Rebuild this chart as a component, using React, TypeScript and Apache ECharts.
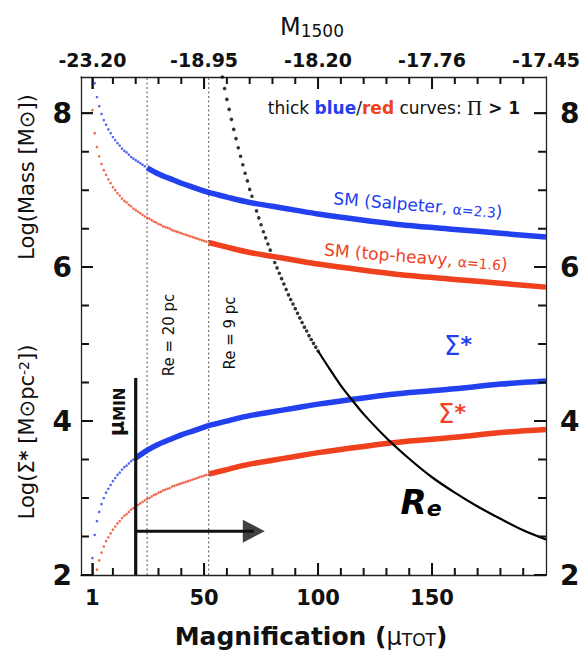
import React, { useEffect, useRef } from "react";
import * as echarts from "echarts";

// ---------- data ----------
const muFine = [1, 2, 3, 4, 5, 6, 7, 8, 9, 10, 11, 12, 13, 14, 15, 16, 17, 18, 19, 20, 21, 22, 23, 24, 25, 26, 27, 28, 29, 30, 31, 32, 33, 34, 35, 36, 37, 38, 39, 40, 41, 42, 43, 44, 45, 46, 47, 48, 49, 50, 51];

const blueMassThin = [null, 8.39, 8.21, 8.09, 7.99, 7.91, 7.85, 7.79, 7.74, 7.69, 7.65, 7.61, 7.58, 7.54, 7.51, 7.49, 7.46, 7.43, 7.41, 7.39, 7.37, 7.35, 7.33, 7.31];
const redMassThin = [8.04, 7.74, 7.56, 7.44, 7.34, 7.26, 7.2, 7.14, 7.09, 7.04, 7.0, 6.96, 6.93, 6.89, 6.86, 6.84, 6.81, 6.79, 6.76, 6.74, 6.72, 6.7, 6.68, 6.66, 6.64, 6.63, 6.61, 6.59, 6.58, 6.56, 6.55, 6.53, 6.52, 6.51, 6.5, 6.48, 6.47, 6.46, 6.45, 6.44, 6.43, 6.42, 6.41, 6.4, 6.39, 6.38, 6.37, 6.36, 6.35, 6.34, 6.33];
const blueSigmaThin = [2.22, 2.52, 2.7, 2.82, 2.92, 3.0, 3.07, 3.12, 3.17, 3.22, 3.26, 3.3, 3.33, 3.37, 3.4, 3.42, 3.45, 3.48, 3.5];
const redSigmaThin = [1.59, 1.89, 2.07, 2.19, 2.29, 2.37, 2.44, 2.49, 2.54, 2.59, 2.63, 2.67, 2.7, 2.74, 2.77, 2.79, 2.82, 2.85, 2.87, 2.89, 2.91, 2.93, 2.95, 2.97, 2.99, 3.0, 3.02, 3.04, 3.05, 3.07, 3.08, 3.1, 3.11, 3.12, 3.13, 3.15, 3.16, 3.17, 3.18, 3.19, 3.2, 3.21, 3.22, 3.23, 3.24, 3.25, 3.26, 3.27, 3.28, 3.29, 3.3];

const muThick = [20, 25, 30, 35, 40, 45, 52, 60, 70, 80, 90, 100, 120, 140, 160, 180, 200];
const blueMassThick = [null, 7.29, 7.21, 7.15, 7.09, 7.04, 6.97, 6.91, 6.84, 6.79, 6.74, 6.69, 6.61, 6.54, 6.49, 6.44, 6.39];
const redMassThick = [null, null, null, null, null, null, 6.32, 6.26, 6.19, 6.14, 6.09, 6.04, 5.96, 5.89, 5.84, 5.79, 5.74];
const blueSigmaThick = [3.52, 3.62, 3.7, 3.76, 3.82, 3.87, 3.94, 4.0, 4.07, 4.12, 4.17, 4.22, 4.3, 4.37, 4.42, 4.48, 4.52];
const redSigmaThick = [null, null, null, null, null, null, 3.31, 3.37, 3.44, 3.49, 3.54, 3.59, 3.67, 3.74, 3.79, 3.85, 3.89];

const reDotMu = [58, 59, 60, 61, 62, 63, 64, 65, 66, 67, 68, 69, 70, 71, 72, 73, 74, 75, 76, 77, 78, 79, 80, 81, 82, 83, 84, 85, 86, 87, 88, 89, 90, 91, 92, 93, 94, 95, 96, 97, 98, 99, 100];
const reDotVal = [8.47, 8.32, 8.18, 8.05, 7.92, 7.79, 7.67, 7.55, 7.44, 7.33, 7.22, 7.12, 7.01, 6.92, 6.82, 6.73, 6.64, 6.55, 6.46, 6.38, 6.3, 6.22, 6.14, 6.06, 5.99, 5.92, 5.85, 5.78, 5.71, 5.64, 5.58, 5.52, 5.46, 5.4, 5.34, 5.28, 5.22, 5.17, 5.11, 5.06, 5.01, 4.96, 4.91];
const reLineMu = [100, 105, 110, 115, 120, 130, 140, 150, 160, 170, 180, 190, 200];
const reLineVal = [4.91, 4.68, 4.46, 4.27, 4.09, 3.78, 3.51, 3.27, 3.07, 2.89, 2.73, 2.58, 2.46];

const reLinesMu = [25, 52];
const muMin = 20;
const muMinTop = 4.56;
const arrowLevel = 2.57;
const arrowHeadMu = 71.8;

const xMin = -4;
const xMax = 200;
const yMin = 2;
const yMax = 8.47;
const bottomTicks = [1, 50, 100, 150];
const minorXTicks = [10, 20, 30, 40, 60, 70, 80, 90, 110, 120, 130, 140, 160, 170, 180, 190];
const topTickMu = [1, 50, 100, 150, 200];
const topTickLabels = ["-23.20", "-18.95", "-18.20", "-17.76", "-17.45"];
const yMajor = [2, 4, 6, 8];
const yMinor = [2.5, 3, 3.5, 4.5, 5, 5.5, 6.5, 7, 7.5];

const GRID = { left: 81, top: 77, width: 468, height: 498 };
const BLUE = "#2340ee";
const RED = "#f0411e";
const FONT = '"DejaVu Sans", sans-serif';
const AX = "#222";

function zip(xs: number[], ys: (number | null)[]) {
  return ys.map((y, i) => [xs[i], y]);
}

export default function App() {
  const ref = useRef<HTMLDivElement>(null);
  useEffect(() => {
    const chart = echarts.init(ref.current!, null, { renderer: "svg" });

    const yPerPx = (yMax - yMin) / GRID.height;
    const xPerPx = (xMax - xMin) / GRID.width;
    const xTickSeg: any[] = [];
    const yTickSeg: any[] = [];
    const addX = (v: number, px: number) => {
      xTickSeg.push([v, yMin], [v, yMin + px * yPerPx], [null, null]);
      xTickSeg.push([v, yMax], [v, yMax - px * yPerPx], [null, null]);
    };
    const addY = (v: number, px: number) => {
      yTickSeg.push([xMin, v], [xMin + px * xPerPx, v], [null, null]);
      yTickSeg.push([xMax, v], [xMax - px * xPerPx, v], [null, null]);
    };
    bottomTicks.forEach((v) => addX(v, 12));
    minorXTicks.forEach((v) => addX(v, 7));
    yMajor.forEach((v) => addY(v, 12));
    yMinor.forEach((v) => addY(v, 8));

    const xAxisBase = { type: "value", min: xMin, max: xMax, splitLine: { show: false } };
    const yAxisBase = { type: "value", min: yMin, max: yMax, splitLine: { show: false } };

    const thin = (data: any[], color: string) => ({
      type: "scatter",
      data,
      symbol: "circle",
      symbolSize: 2.6,
      itemStyle: { color },
      silent: true,
    });
    const thick = (data: any[], color: string) => ({
      type: "line",
      data,
      symbol: "none",
      smooth: 0.3,
      lineStyle: { color, width: 5.5 },
      silent: true,
    });

    const texts: any[] = [
      {
        type: "text", x: 312, y: 27,
        style: {
          text: "{m|M}{s|1500}", align: "center", verticalAlign: "middle",
          rich: {
            m: { fontSize: 24, fontFamily: FONT, fill: "#111", verticalAlign: "bottom" },
            s: { fontSize: 17, fontFamily: FONT, fill: "#111", verticalAlign: "bottom" },
          },
        },
      },
      {
        type: "text", x: 311, y: 636,
        style: {
          text: "{a|Magnification (}{b|μ}{c|TOT}{a|)}", align: "center", verticalAlign: "middle",
          rich: {
            a: { fontSize: 25, fontWeight: "bold", fontFamily: FONT, fill: "#111", verticalAlign: "bottom" },
            b: { fontSize: 24, fontFamily: FONT, fill: "#111", verticalAlign: "bottom" },
            c: { fontSize: 17, fontFamily: FONT, fill: "#111", verticalAlign: "bottom" },
          },
        },
      },
      {
        type: "text", x: 27, y: 177, rotation: Math.PI / 2,
        style: { text: "Log(Mass [M⊙])", align: "center", verticalAlign: "middle", fontSize: 21, fontFamily: FONT, fill: "#111" },
      },
      {
        type: "text", x: 27, y: 432, rotation: Math.PI / 2,
        style: {
          text: "{a|Log(Σ}{b|*}{a| [M⊙pc}{c|-2}{a|])}", align: "center", verticalAlign: "middle",
          rich: {
            a: { fontSize: 21, fontFamily: FONT, fill: "#111", verticalAlign: "bottom" },
            b: { fontSize: 19, fontWeight: "bold", fontFamily: FONT, fill: "#111", verticalAlign: "top" },
            c: { fontSize: 14, fontFamily: FONT, fill: "#111", verticalAlign: "top" },
          },
        },
      },
      {
        type: "text", x: 394, y: 108,
        style: {
          text: "{k|thick }{b|blue}{k|/}{r|red}{k| curves: }{p|Π}{g| > 1}", align: "center", verticalAlign: "middle",
          rich: {
            k: { fontSize: 17, fontFamily: FONT, fill: "#111" },
            b: { fontSize: 17, fontWeight: "bold", fontFamily: FONT, fill: BLUE },
            r: { fontSize: 17, fontWeight: "bold", fontFamily: FONT, fill: RED },
            p: { fontSize: 21, fontFamily: '"Liberation Serif", serif', fill: "#111" },
            g: { fontSize: 17, fontWeight: "bold", fontFamily: FONT, fill: "#111" },
          },
        },
      },
      {
        type: "text", x: 418, y: 205, rotation: -0.08,
        style: {
          text: "{a|SM (Salpeter, }{s|α=2.3}{a|)}", align: "center", verticalAlign: "middle",
          rich: {
            a: { fontSize: 17, fontFamily: FONT, fill: BLUE, verticalAlign: "bottom" },
            s: { fontSize: 14, fontFamily: FONT, fill: BLUE, verticalAlign: "bottom" },
          },
        },
      },
      {
        type: "text", x: 416, y: 257, rotation: -0.08,
        style: {
          text: "{a|SM (top-heavy, }{s|α=1.6}{a|)}", align: "center", verticalAlign: "middle",
          rich: {
            a: { fontSize: 17, fontFamily: FONT, fill: RED, verticalAlign: "bottom" },
            s: { fontSize: 14, fontFamily: FONT, fill: RED, verticalAlign: "bottom" },
          },
        },
      },
      {
        type: "text", x: 458, y: 346,
        style: {
          text: "{s|Σ}{t|*}", align: "center", verticalAlign: "middle",
          rich: {
            s: { fontSize: 26, fontFamily: FONT, fill: BLUE, verticalAlign: "bottom" },
            t: { fontSize: 22, fontWeight: "bold", fontFamily: FONT, fill: BLUE, verticalAlign: "top" },
          },
        },
      },
      {
        type: "text", x: 452, y: 414,
        style: {
          text: "{s|Σ}{t|*}", align: "center", verticalAlign: "middle",
          rich: {
            s: { fontSize: 26, fontFamily: FONT, fill: RED, verticalAlign: "bottom" },
            t: { fontSize: 22, fontWeight: "bold", fontFamily: FONT, fill: RED, verticalAlign: "top" },
          },
        },
      },
      {
        type: "text", x: 169, y: 335, rotation: Math.PI / 2,
        style: { text: "Re = 20 pc", align: "center", verticalAlign: "middle", fontSize: 15, fontFamily: FONT, fill: "#111" },
      },
      {
        type: "text", x: 230, y: 333, rotation: Math.PI / 2,
        style: { text: "Re = 9 pc", align: "center", verticalAlign: "middle", fontSize: 15, fontFamily: FONT, fill: "#111" },
      },
      {
        type: "text", x: 117, y: 412, rotation: Math.PI / 2,
        style: {
          text: "{m|μ}{s|MIN}", align: "center", verticalAlign: "middle",
          rich: {
            m: { fontSize: 21, fontWeight: "bold", fontFamily: FONT, fill: "#111", verticalAlign: "bottom" },
            s: { fontSize: 15, fontWeight: "bold", fontFamily: FONT, fill: "#111", verticalAlign: "bottom" },
          },
        },
      },
      {
        type: "text", x: 421, y: 502,
        style: {
          text: "{r|R}{e|e}", align: "center", verticalAlign: "middle",
          rich: {
            r: { fontSize: 34, fontWeight: "bold", fontStyle: "italic", fontFamily: FONT, fill: "#000", verticalAlign: "top" },
            e: { fontSize: 22, fontWeight: "bold", fontStyle: "italic", fontFamily: FONT, fill: "#000", verticalAlign: "bottom" },
          },
        },
      },
    ];

    const labelStyle = { fontWeight: "bold", color: "#111", fontFamily: FONT };

    const option: any = {
      animation: false,
      grid: { ...GRID, containLabel: false },
      xAxis: [
        {
          ...xAxisBase,
          position: "bottom",
          axisLine: { show: true, onZero: false, lineStyle: { color: AX, width: 1.3 } },
          axisTick: { show: true, inside: true, length: 12, customValues: bottomTicks, lineStyle: { color: AX, width: 1.6 } },
          axisLabel: { show: true, customValues: bottomTicks, margin: 12, fontSize: 21, ...labelStyle },
        },
        {
          ...xAxisBase,
          position: "top",
          axisLine: { show: true, onZero: false, lineStyle: { color: AX, width: 1.3 } },
          axisTick: { show: true, inside: true, length: 12, customValues: bottomTicks, lineStyle: { color: AX, width: 1.6 } },
          axisLabel: {
            show: true,
            customValues: topTickMu,
            formatter: (v: number) => topTickLabels[topTickMu.indexOf(v)] ?? "",
            margin: 8,
            fontSize: 19,
            ...labelStyle,
          },
        },
      ],
      yAxis: [
        {
          ...yAxisBase,
          position: "left",
          axisLine: { show: true, onZero: false, lineStyle: { color: AX, width: 1.3 } },
          axisTick: { show: true, inside: true, length: 12, customValues: yMajor, lineStyle: { color: AX, width: 1.6 } },
          axisLabel: { show: true, customValues: yMajor, margin: 9, fontSize: 28, ...labelStyle },
        },
        {
          ...yAxisBase,
          position: "right",
          axisLine: { show: true, onZero: false, lineStyle: { color: AX, width: 1.3 } },
          axisTick: { show: true, inside: true, length: 12, customValues: yMajor, lineStyle: { color: AX, width: 1.6 } },
          axisLabel: { show: true, customValues: yMajor, margin: 14, fontSize: 28, ...labelStyle },
        },
      ],
      series: [
        ...reLinesMu.map((m) => ({
          type: "line",
          data: [
            [m, yMin],
            [m, yMax],
          ],
          symbol: "none",
          lineStyle: { color: "#777", width: 1.3, type: [2, 2.5] },
          silent: true,
        })),
        thin(zip(muFine, blueMassThin), BLUE),
        thin(zip(muFine, redMassThin), RED),
        thin(zip(muFine, blueSigmaThin), BLUE),
        thin(zip(muFine, redSigmaThin), RED),
        thick(zip(muThick, blueMassThick), BLUE),
        thick(zip(muThick, redMassThick), RED),
        thick(zip(muThick, blueSigmaThick), BLUE),
        thick(zip(muThick, redSigmaThick), RED),
        {
          type: "line",
          data: [
            [muMin, yMin],
            [muMin, muMinTop],
          ],
          symbol: "none",
          lineStyle: { color: "#111", width: 3.2 },
          silent: true,
        },
        {
          type: "line",
          data: [
            [muMin, arrowLevel],
            [arrowHeadMu, arrowLevel],
          ],
          symbol: "none",
          lineStyle: { color: "#111", width: 3 },
          silent: true,
        },
        {
          type: "scatter",
          data: [[arrowHeadMu, arrowLevel]],
          symbol: "triangle",
          symbolSize: [23, 22],
          symbolRotate: -90,
          itemStyle: { color: "#111" },
          silent: true,
        },
        {
          type: "scatter",
          data: zip(reDotMu, reDotVal),
          symbol: "circle",
          symbolSize: 3.6,
          itemStyle: { color: "#000" },
          silent: true,
        },
        {
          type: "line",
          data: zip(reLineMu, reLineVal),
          symbol: "none",
          smooth: 0.3,
          lineStyle: { color: "#000", width: 2.2 },
          silent: true,
        },
        // frame ticks (minor + major), drawn as short segments
        {
          type: "line",
          data: xTickSeg,
          symbol: "none",
          lineStyle: { color: "#111", width: 2 },
          silent: true,
        },
        {
          type: "line",
          data: yTickSeg,
          symbol: "none",
          lineStyle: { color: "#111", width: 2 },
          silent: true,
        },
      ],
      graphic: texts,
    };
    chart.setOption(option);
    return () => chart.dispose();
  }, []);
  return (
    <div
      ref={ref}
      style={{ position: "absolute", left: 0, top: 0, width: 583, height: 655, background: "#fff" }}
    />
  );
}
